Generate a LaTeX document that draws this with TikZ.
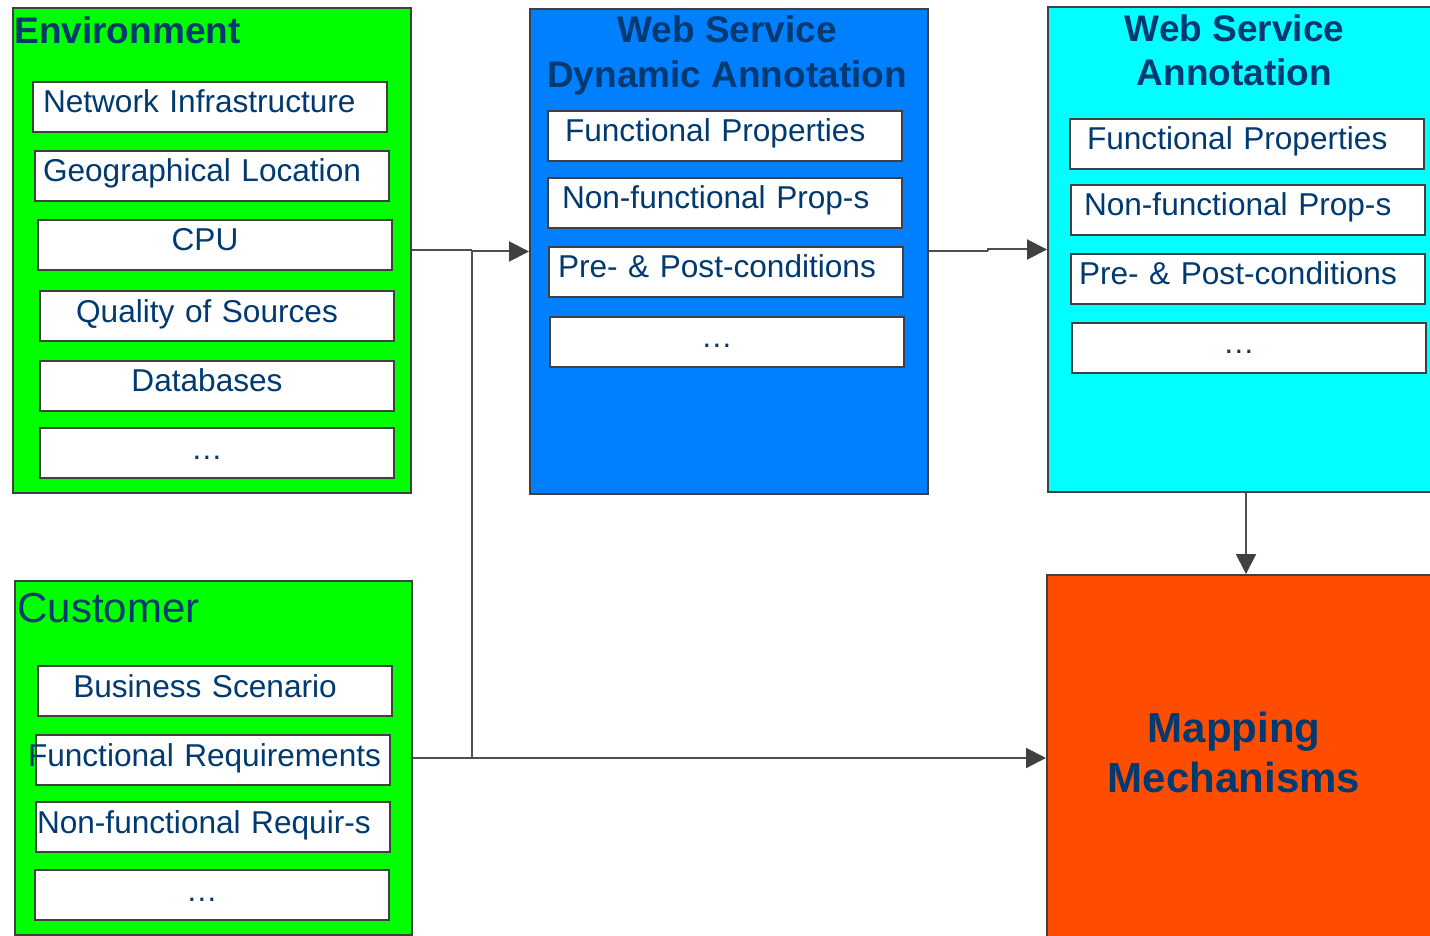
\documentclass[tikz,border=0pt]{standalone}
\usepackage{fontspec}
\setmainfont{Liberation Sans}
\usetikzlibrary{arrows.meta}
\definecolor{cTxt}{RGB}{0,58,112}
\definecolor{cEdge}{RGB}{64,64,64}
\definecolor{cWire}{RGB}{80,80,80}
\definecolor{cGrn}{RGB}{0,255,0}
\definecolor{cBlu}{RGB}{0,128,255}
\definecolor{cCyn}{RGB}{0,255,255}
\definecolor{cOrg}{RGB}{255,77,0}
\begin{document}
\begin{tikzpicture}[x=0.5pt,y=-0.5pt,
 cont/.style={draw=cEdge, line width=1pt, inner sep=0pt, anchor=north west},
 item/.style={draw=cEdge, line width=1pt, fill=white, inner xsep=0pt, inner ysep=0pt, anchor=north west,
   minimum width=177pt, minimum height=25pt, text height=15.5pt, text depth=9.5pt,
   font=\fontsize{15.8}{19}\selectfont, text=cTxt},
 itemL/.style={item, align=left, text width=#1},
 itemC/.style={item, align=center, text width=177pt, execute at begin node={\hspace*{-10pt}}},
 ttl/.style={inner sep=0pt, text=cTxt, anchor=base, font=\fontsize{18.5}{22}\selectfont\bfseries},
 bigttl/.style={inner sep=0pt, text=cTxt, anchor=base, font=\fontsize{21}{25}\selectfont\bfseries},
 wire/.style={draw=cWire, line width=1pt},
 arr/.style={wire, -{Triangle[length=10pt,width=10pt,fill=cEdge,color=cEdge]}}
]
\clip (0,0) rectangle (1430,936);
\fill[white] (0,0) rectangle (1430,936);

% Environment
\node[cont, fill=cGrn, minimum width=199pt, minimum height=242.5pt] (env) at (12,7) {};
\node[ttl, anchor=base west] (envT) at (14,44) {Environment};
\node[itemL=167pt] (e1) at (32,81) {Network Infrastructure};
\node[itemL=169pt] (e2) at (34,150) {Geographical Location};
\node[itemC] (e3) at (37,219) {CPU};
\node[itemC] (e4) at (39,290) {Quality of Sources};
\node[itemC] (e5) at (39,360) {Databases};
\node[itemC] (e6) at (39,427) {…};

% Customer
\node[cont, fill=cGrn, minimum width=198.5pt, minimum height=177pt] (cust) at (14,580) {};
\node[inner sep=0pt, text=cTxt, font=\fontsize{21}{25}\selectfont, anchor=base west] (custT) at (17,622) {Customer};
\node[itemC] (c1) at (37,665) {Business Scenario};
\node[itemL=185pt, inner xsep=-4pt] (c2) at (35,734) {Functional Requirements};
\node[itemL=176pt] (c3) at (35,801) {Non-functional Requir-s};
\node[itemC] (c4) at (34,869) {…};

% Web Service Dynamic Annotation
\node[cont, fill=cBlu, minimum width=199pt, minimum height=242.5pt] (wsda) at (529,8) {};
\node[ttl] (wsdaT1) at (727,43) {Web Service};
\node[ttl] (wsdaT2) at (727,88) {Dynamic Annotation};
\node[itemL=160pt] (d1) at (547,110) {Functional Properties};
\node[itemL=163pt] (d2) at (547,177) {Non-functional Prop-s};
\node[itemL=168pt] (d3) at (548,246) {Pre- \& Post-conditions};
\node[itemC] (d4) at (549,316) {…};

% Web Service Annotation
\node[cont, fill=cCyn, minimum width=198pt, minimum height=242.5pt] (wsa) at (1047,6) {};
\node[ttl] (wsaT1) at (1234.5,42) {Web Service};
\node[ttl] (wsaT2) at (1234.5,86) {Annotation};
\node[itemL=160pt] (a1) at (1069,118) {Functional Properties};
\node[itemL=164pt] (a2) at (1070,184) {Non-functional Prop-s};
\node[itemL=169pt] (a3) at (1070,253) {Pre- \& Post-conditions};
\node[itemC] (a4) at (1071,322) {…};

% Mapping Mechanisms
\node[cont, fill=cOrg, minimum width=199pt, minimum height=186pt] (mm) at (1046,574) {};
\node[bigttl] (mmT1) at (1234,742) {Mapping};
\node[bigttl] (mmT2) at (1234,792) {Mechanisms};

% connectors
\path (env.east) -- ++(60,0) coordinate (j1);
\draw[wire] (env.east) -- (j1);
\draw[arr] (j1) |- (wsda.west);
\draw[wire] (j1) -- (j1 |- cust.east);
\draw[arr] (cust.east) -- (cust.east -| mm.west);
\path (wsda.east) -- ++(59,0) coordinate (j2);
\draw[wire] (wsda.east) -- (j2);
\draw[arr] (j2) |- (wsa.west);
\draw[arr] (wsa.south) -- (mm.north);
\end{tikzpicture}
\end{document}
